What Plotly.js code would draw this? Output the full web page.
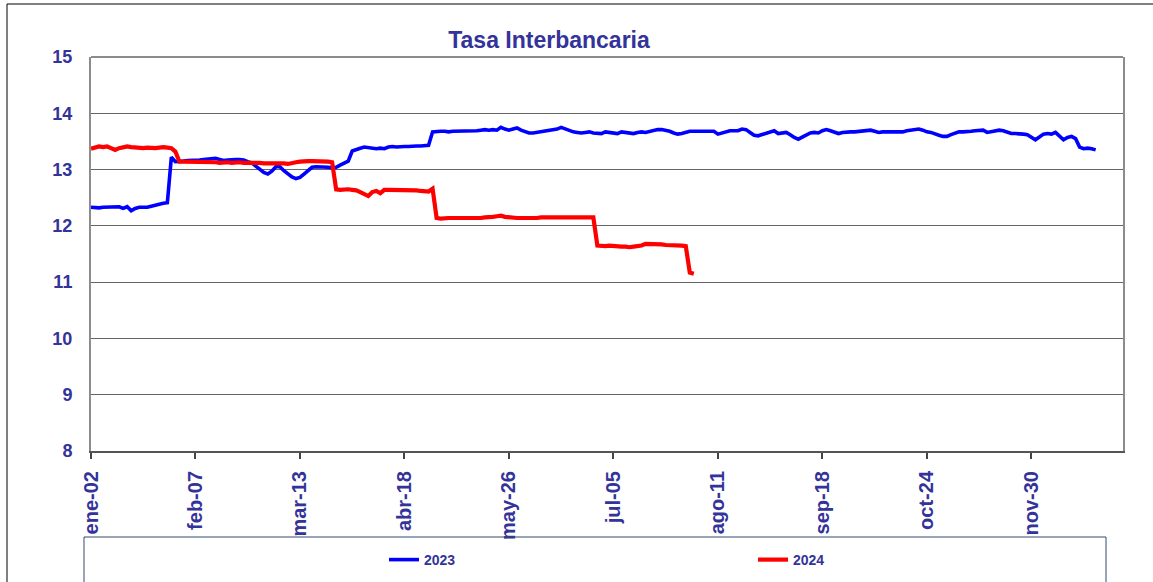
<!DOCTYPE html>
<html>
<head>
<meta charset="utf-8">
<script src="https://cdn.plot.ly/plotly-3.0.1.min.js"></script>
<style>html,body{margin:0;padding:0;background:#fff;}#chart{width:1153px;height:582px;}</style>
</head>
<body>
<div id="chart"></div>
<script>
// Tick labels: one label every 26 business days, starting on the first day
const tickLabels = ['ene-02','feb-07','mar-13','abr-18','may-26','jul-05','ago-11','sep-18','oct-24','nov-30'];
const daysPerTick = 26;

// Serie 2023 (valores diarios)
const serie2023 = [
  12.33,12.32,12.32,12.33,12.33,12.34,12.33,12.34,12.31,12.34,
  12.27,12.31,12.33,12.33,12.33,12.35,12.37,12.38,12.40,12.41,
  13.22,13.14,13.14,13.15,13.16,13.16,13.17,13.17,13.18,13.19,
  13.20,13.20,13.18,13.16,13.17,13.18,13.18,13.18,13.17,13.14,
  13.12,13.06,13.00,12.95,12.92,12.97,13.05,13.05,12.98,12.92,
  12.87,12.84,12.86,12.92,12.98,13.04,13.05,13.05,13.05,13.04,
  13.03,13.04,13.08,13.12,13.15,13.33,13.36,13.38,13.40,13.39,
  13.38,13.37,13.38,13.37,13.40,13.41,13.40,13.41,13.41,13.41,
  13.42,13.42,13.42,13.43,13.43,13.67,13.68,13.68,13.68,13.67,
  13.68,13.68,13.68,13.68,13.68,13.69,13.69,13.70,13.71,13.70,
  13.71,13.70,13.75,13.72,13.70,13.72,13.74,13.70,13.67,13.65,
  13.65,13.66,13.67,13.68,13.69,13.70,13.72,13.75,13.72,13.69,
  13.67,13.66,13.65,13.66,13.67,13.65,13.64,13.64,13.67,13.66,
  13.64,13.64,13.67,13.66,13.65,13.64,13.66,13.67,13.66,13.68,
  13.70,13.71,13.71,13.70,13.68,13.65,13.63,13.64,13.66,13.68,
  13.68,13.68,13.67,13.68,13.68,13.68,13.63,13.65,13.68,13.69,
  13.69,13.69,13.72,13.71,13.66,13.61,13.60,13.62,13.64,13.67,
  13.69,13.64,13.65,13.66,13.62,13.57,13.54,13.58,13.62,13.65,
  13.66,13.65,13.69,13.71,13.69,13.66,13.64,13.66,13.67,13.67,
  13.67,13.68,13.68,13.69,13.70,13.68,13.66,13.67,13.67,13.67,
  13.66,13.66,13.67,13.69,13.70,13.71,13.72,13.70,13.67,13.66,
  13.63,13.61,13.59,13.59,13.62,13.65,13.67,13.67,13.67,13.68,
  13.69,13.69,13.70,13.66,13.67,13.69,13.70,13.69,13.66,13.64,
  13.64,13.64,13.63,13.62,13.57,13.53,13.58,13.63,13.64,13.63,
  13.66,13.60,13.53,13.57,13.59,13.55,13.40,13.37,13.38,13.37,
  13.35
];

// Serie 2024
const serie2024 = [
  13.37,13.40,13.41,13.40,13.41,13.38,13.35,13.38,13.40,13.41,
  13.40,13.39,13.39,13.38,13.39,13.38,13.38,13.39,13.40,13.39,
  13.38,13.32,13.14,13.14,13.14,13.14,13.13,13.14,13.13,13.13,
  13.14,13.13,13.12,13.13,13.13,13.12,13.13,13.13,13.12,13.12,
  13.13,13.12,13.12,13.11,13.11,13.11,13.11,13.12,13.11,13.10,
  13.12,13.13,13.14,13.15,13.15,13.15,13.15,13.15,13.14,13.14,
  13.13,12.65,12.64,12.65,12.65,12.64,12.63,12.60,12.56,12.53,
  12.60,12.62,12.58,12.64,12.64,12.64,12.64,12.63,12.64,12.64,
  12.63,12.63,12.62,12.62,12.61,12.66,12.14,12.13,12.14,12.14,
  12.14,12.14,12.13,12.14,12.13,12.14,12.14,12.14,12.15,12.15,
  12.16,12.17,12.18,12.16,12.15,12.15,12.14,12.14,12.14,12.13,
  12.14,12.14,12.15,12.15,12.15,12.16,12.16,12.15,12.15,12.15,
  12.15,12.15,12.15,12.15,12.15,12.15,11.65,11.64,11.64,11.65,
  11.64,11.64,11.63,11.63,11.62,11.63,11.64,11.65,11.68,11.68,
  11.67,11.67,11.67,11.66,11.66,11.66,11.65,11.65,11.64,11.17,
  11.15
];

const seriesNames = ['2023', '2024'];
const seriesColors = ['#0000ff', '#ff0000'];

const W = 1153, H = 582;
const M = {l: 91, r: 30, t: 57, b: 131, autoexpand: false};
const pw = W - M.l - M.r, ph = H - M.t - M.b;
const px = v => (v - M.l) / pw;       // page pixel -> paper x
const py = v => (H - M.b - v) / ph;   // page pixel -> paper y

const traces = [serie2023, serie2024].map((s, k) => ({
  type: 'scatter',
  mode: 'lines',
  name: '<b>' + seriesNames[k] + '</b>',
  x: s.map((_, i) => i),
  y: s,
  line: {color: seriesColors[k], width: k === 0 ? 3.6 : 4.2, shape: 'linear'},
  hoverinfo: 'x+y'
}));

const txtColor = '#333399';
const fontFam = 'Liberation Sans, Arial, sans-serif';

const layout = {
  width: W, height: H,
  margin: M,
  paper_bgcolor: '#ffffff',
  plot_bgcolor: '#ffffff',
  title: {
    text: '<b>Tasa Interbancaria</b>',
    font: {family: fontFam, size: 23, color: txtColor},
    xref: 'container', x: 549 / W, xanchor: 'center',
    yref: 'container', y: 1 - 40 / H, yanchor: 'middle'
  },
  xaxis: {
    type: 'linear',
    range: [0, 256.8],
    tickmode: 'array',
    tickvals: tickLabels.map((_, k) => k * daysPerTick),
    ticktext: tickLabels.map(t => '<b>' + t + '</b>'),
    tickangle: -90,
    tickfont: {family: fontFam, size: 20, color: txtColor},
    ticks: 'outside', ticklen: 6, tickwidth: 2, tickcolor: '#444',
    ticklabelstandoff: 4,
    showgrid: false, zeroline: false,
    showline: true, linecolor: '#555', linewidth: 2,
    mirror: false,
    automargin: false,
    fixedrange: true
  },
  yaxis: {
    range: [8, 15],
    tickmode: 'array',
    tickvals: [8, 9, 10, 11, 12, 13, 14, 15],
    ticktext: ['8','9','10','11','12','13','14','15'].map(t => '<b>' + t + '</b>'),
    tickfont: {family: fontFam, size: 18, color: txtColor},
    ticks: '',
    ticklabelstandoff: 13,
    showgrid: true, gridcolor: '#666', gridwidth: 1,
    zeroline: false,
    showline: true, linecolor: '#8c8c8c', linewidth: 2,
    mirror: true,
    automargin: false,
    fixedrange: true
  },
  showlegend: true,
  legend: {
    orientation: 'h',
    x: px(384), xanchor: 'left',
    y: py(560), yanchor: 'middle',
    entrywidth: 324, entrywidthmode: 'pixels',
    font: {family: fontFam, size: 14, color: txtColor},
    bgcolor: 'rgba(0,0,0,0)',
    borderwidth: 0,
    traceorder: 'normal'
  },
  shapes: [
    // top frame of plot area (grey)
    {type: 'line', xref: 'paper', yref: 'paper', x0: 0, x1: 1, y0: 1, y1: 1,
     line: {color: '#8c8c8c', width: 2}},
    // legend box
    {type: 'rect', xref: 'paper', yref: 'paper',
     x0: px(84), x1: px(1106), y0: py(537), y1: py(640),
     line: {color: '#2f4b6e', width: 1}},
    // outer chart border
    {type: 'rect', xref: 'paper', yref: 'paper',
     x0: px(7), x1: px(1300), y0: py(4), y1: py(700),
     line: {color: '#000000', width: 1}}
  ]
};

layout.legend.itemclick = false;
layout.legend.itemdoubleclick = false;

Plotly.newPlot('chart', traces, layout, {displayModeBar: false, staticPlot: true});
</script>
</body>
</html>
